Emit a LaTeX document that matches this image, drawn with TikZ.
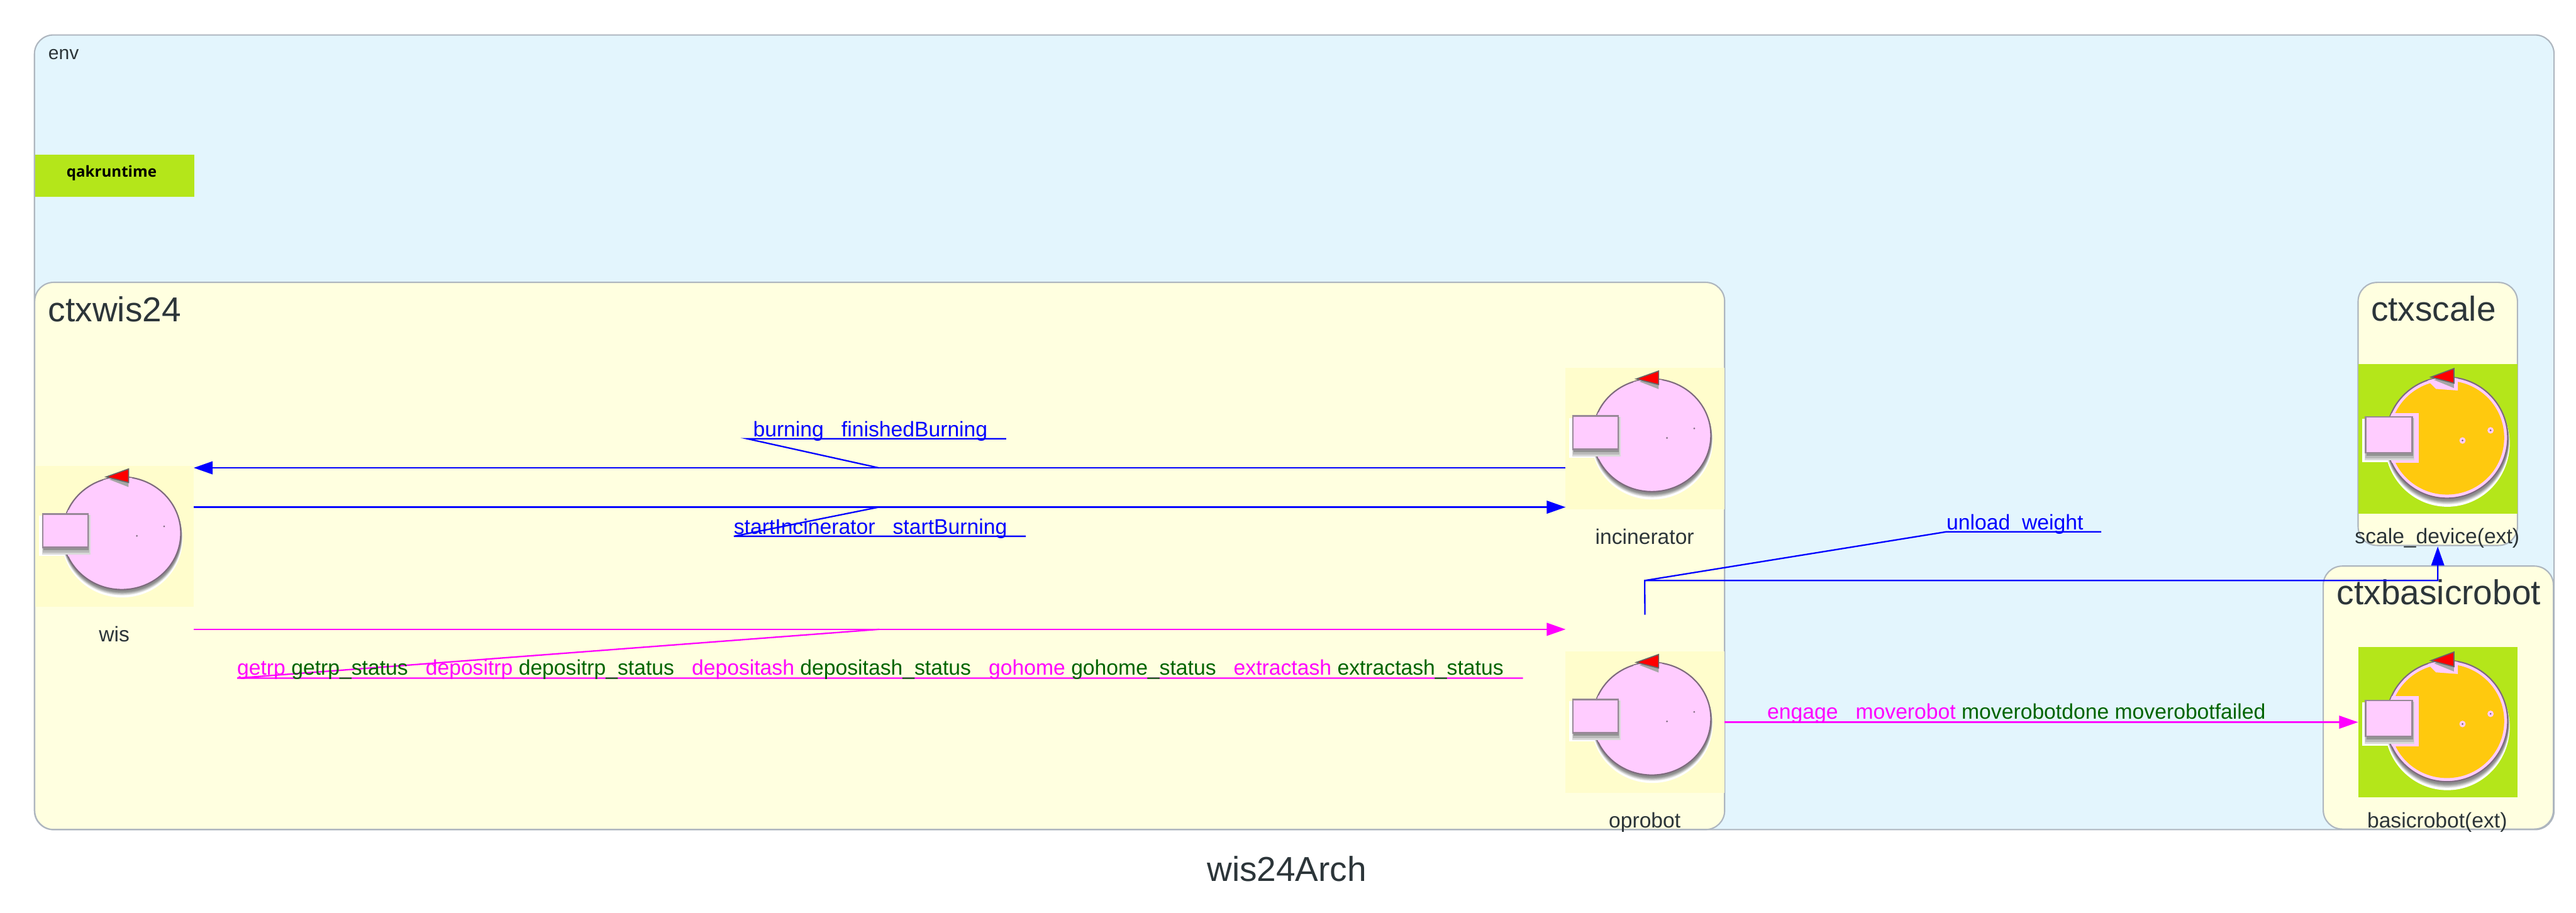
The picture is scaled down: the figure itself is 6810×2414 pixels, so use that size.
\documentclass[tikz,border=0pt]{standalone}
\usepackage{fontspec}
\setmainfont{Liberation Sans}
\newfontfamily\qakfont{Open Sans}
\usetikzlibrary{arrows.meta}
\definecolor{envblue}{HTML}{E3F5FD}
\definecolor{ctxyellow}{HTML}{FFFFE0}
\definecolor{actoryellow}{HTML}{FFFDCC}
\definecolor{extgreen}{HTML}{B4E61A}
\definecolor{edgegray}{HTML}{AEB6BF}
\definecolor{inkgray}{HTML}{2C3539}
\definecolor{flowblue}{HTML}{0000FF}
\definecolor{flowmagenta}{HTML}{FF00FF}
\definecolor{flowgreen}{HTML}{006400}
\definecolor{discpink}{HTML}{FFCCFF}
\definecolor{discedge}{HTML}{7D6A7D}
\definecolor{coreorange}{HTML}{FFC90E}
\newcommand{\req}[1]{\textcolor{flowmagenta}{#1}}
\newcommand{\rsp}[1]{\textcolor{flowgreen}{#1}}
\newcommand{\actoricon}[5]{%
  \begin{scope}[shift={(#1.north west)}, shift={(0,#5)}, xscale=#3, yscale=#4]
    \fill[white] (10,132) rectangle (150,238);
    \foreach \off/\col in {21/white, 15/gray!25, 12/gray!50, 9/gray!75, 6/gray!90} {
      \fill[\col] (229,{178+\off*0.66}) ellipse [x radius={156+\off/5}, y radius={149+\off/3}];
    }
    \fill[discpink, draw=discedge, line width=1pt] (228,178) ellipse [x radius=156, y radius=149];
    \fill[#2] (228,178) ellipse [x radius=147, y radius=140];
    \begin{scope}
      \clip (228,178) ellipse [x radius=155, y radius=148];
      \fill[discpink] (8,117) rectangle (156,240);
      \fill[discpink] (175,34) -- (256,25) -- (256,62) -- (200,58) -- cycle;
    \end{scope}
    \fill[discpink] (268,185) circle [radius=8];
    \fill[discpink] (340,160) circle [radius=8];
    \fill[gray!30] (17,130) rectangle (145,234);
    \fill[gray!55] (19,130) rectangle (143,229);
    \fill[gray!85] (21,130) rectangle (141,223);
    \fill[discpink, draw=discedge!80, line width=1.2pt] (19,127) rectangle (139,215);
    \fill[gray!70] (195,36) -- (246,18) -- (246,56) -- cycle;
    \fill[red, draw=gray!80!black, line width=.8pt] (187,29) -- (246,8) -- (246,44) -- cycle;
    \fill[discedge] (268,185) circle [radius=2.5];
    \fill[discedge] (340,160) circle [radius=2.5];
  \end{scope}%
}
\begin{document}
\begin{tikzpicture}[
  x=0.01cm, y=-0.01cm,
  every node/.style={inner sep=0pt, outer sep=0pt},
  envbox/.style={draw=edgegray, line width=1pt, rounded corners=0.5cm, fill=envblue},
  ctxbox/.style={draw=edgegray, line width=1pt, rounded corners=0.5cm, fill=ctxyellow},
  actorbox/.style={fill=actoryellow, minimum width=4.19cm, minimum height=3.74cm},
  extbox/.style={fill=extgreen, minimum width=4.21cm, minimum height=3.96cm},
  ctxname/.style={anchor=base west, text=inkgray, font=\fontsize{26}{30}\selectfont},
  actorname/.style={anchor=base, text=inkgray, font=\fontsize{15.9}{18}\selectfont},
  flowtext/.style={anchor=base west, font=\fontsize{15.93}{18}\selectfont},
  blueline/.style={draw=flowblue, line width=1.1pt},
  magentaline/.style={draw=flowmagenta, line width=1.1pt},
  bluearrow/.style={blueline, -{Triangle[length=0.5cm, width=0.34cm]}},
  magentaarrow/.style={magentaline, -{Triangle[length=0.5cm, width=0.34cm]}}
]
\useasboundingbox (0,0) rectangle (6810,2414);

\node[envbox, minimum width=66.57cm, minimum height=21cm] (env) at (3421.5,1143) {};
\node[ctxbox, minimum width=44.65cm, minimum height=14.46cm] (ctxwis) at (2325.5,1470) {};
\node[ctxbox, minimum width=4.21cm, minimum height=6.95cm] (ctxscale) at (6444.5,1094.5) {};
\node[ctxbox, minimum width=6.08cm, minimum height=6.95cm] (ctxbasicrobot) at (6446,1844.5) {};

\node[fill=extgreen, minimum width=4.2cm, minimum height=1.11cm] (qakbar) at (303,464.5) {};
\node[anchor=base, font=\fontsize{11.4}{14}\selectfont\qakfont\bfseries] (qaktext) at (295,468) {qakruntime};

\node[anchor=base west, text=inkgray, font=\fontsize{14.2}{17}\selectfont] (envname) at (128,157) {env};
\node[ctxname] (ctxwisname) at (128,851) {ctxwis24};
\node[ctxname] (ctxscalename) at (6268,849) {ctxscale};
\node[ctxname] (ctxbasicrobotname) at (6178,1599) {ctxbasicrobot};

\node[actorbox, minimum width=4.18cm, minimum height=3.73cm] (wis) at (303,1418.5) {};
\node[actorbox] (incinerator) at (4348.5,1160) {};
\node[actorbox] (oprobot) at (4348.5,1909.5) {};
\node[extbox] (scaledevice) at (6444.5,1160) {};
\node[extbox] (basicrobot) at (6444.5,1909.5) {};

\actoricon{wis}{discpink}{1}{1}{0}
\actoricon{incinerator}{discpink}{1}{1}{0}
\actoricon{oprobot}{discpink}{1}{1}{0}
\actoricon{scaledevice}{coreorange}{1.03}{1.075}{4}
\actoricon{basicrobot}{coreorange}{1.03}{1.075}{4}

\node[actorname] (wisname) at (302,1697) {wis};
\node[actorname] (incineratorname) at (4348,1439) {incinerator};
\node[actorname] (oprobotname) at (4348,2189) {oprobot};
\node[actorname] (scaledevicename) at (6443,1438) {scale\_device(ext)};
\node[actorname] (basicrobotname) at (6443,2188) {basicrobot(ext)};

\coordinate (burnjoint) at (2323,1237);
\coordinate (burnfrom) at (1975,1160);
\coordinate (burnto) at (2660,1160);
\coordinate (startjoint) at (2323,1341);
\coordinate (startfrom) at (1940,1418);
\coordinate (startto) at (2712,1418);
\coordinate (requestjoint) at (2324,1664);
\coordinate (requestfrom) at (627,1793);
\coordinate (requestto) at (4026,1793);
\coordinate (unloadjoint) at (4348,1535);
\coordinate (unloadfrom) at (5146,1406);
\coordinate (unloadto) at (5555,1406);

\draw[bluearrow] (incinerator.west |- burnjoint) -- (wis.east |- burnjoint);
\draw[blueline] (burnjoint) -- (burnfrom) -- (burnto);
\draw[bluearrow] (wis.east |- startjoint) -- (incinerator.west |- startjoint);
\draw[blueline] (startjoint) -- (startfrom) -- (startto);
\draw[magentaarrow] (wis.east |- requestjoint) -- (oprobot.west |- requestjoint);
\draw[magentaline] (requestjoint) -- (requestfrom) -- (requestto);
\draw[magentaarrow] (oprobot.east) -- (basicrobot.west);
\draw[bluearrow] ([yshift=0.97cm]oprobot.north) -- (unloadjoint) -- (unloadjoint -| scaledevice.south) -- ([yshift=-0.87cm]scaledevice.south);
\draw[blueline] (unloadjoint) -- (unloadfrom) -- (unloadto);

\node[flowtext, text=flowblue] (burnlabel) at (1991,1155) {burning~~~finishedBurning};
\node[flowtext, text=flowblue] (startlabel) at (1940,1413) {startIncinerator~~~startBurning};
\node[flowtext] (requestlabel) at (627,1784) {\req{getrp} \rsp{getrp\_status}~~~\req{depositrp} \rsp{depositrp\_status}~~~\req{depositash} \rsp{depositash\_status}~~~\req{gohome} \rsp{gohome\_status}~~~\req{extractash} \rsp{extractash\_status}};
\node[flowtext] (engagelabel) at (4672,1901) {\req{engage}~~~\req{moverobot} \rsp{moverobotdone} \rsp{moverobotfailed}};
\node[flowtext, text=flowblue] (unloadlabel) at (5146,1401) {unload~~weight};

\node[anchor=base, text=inkgray, font=\fontsize{26}{30}\selectfont] (title) at (3402,2330) {wis24Arch};
\end{tikzpicture}
\end{document}
